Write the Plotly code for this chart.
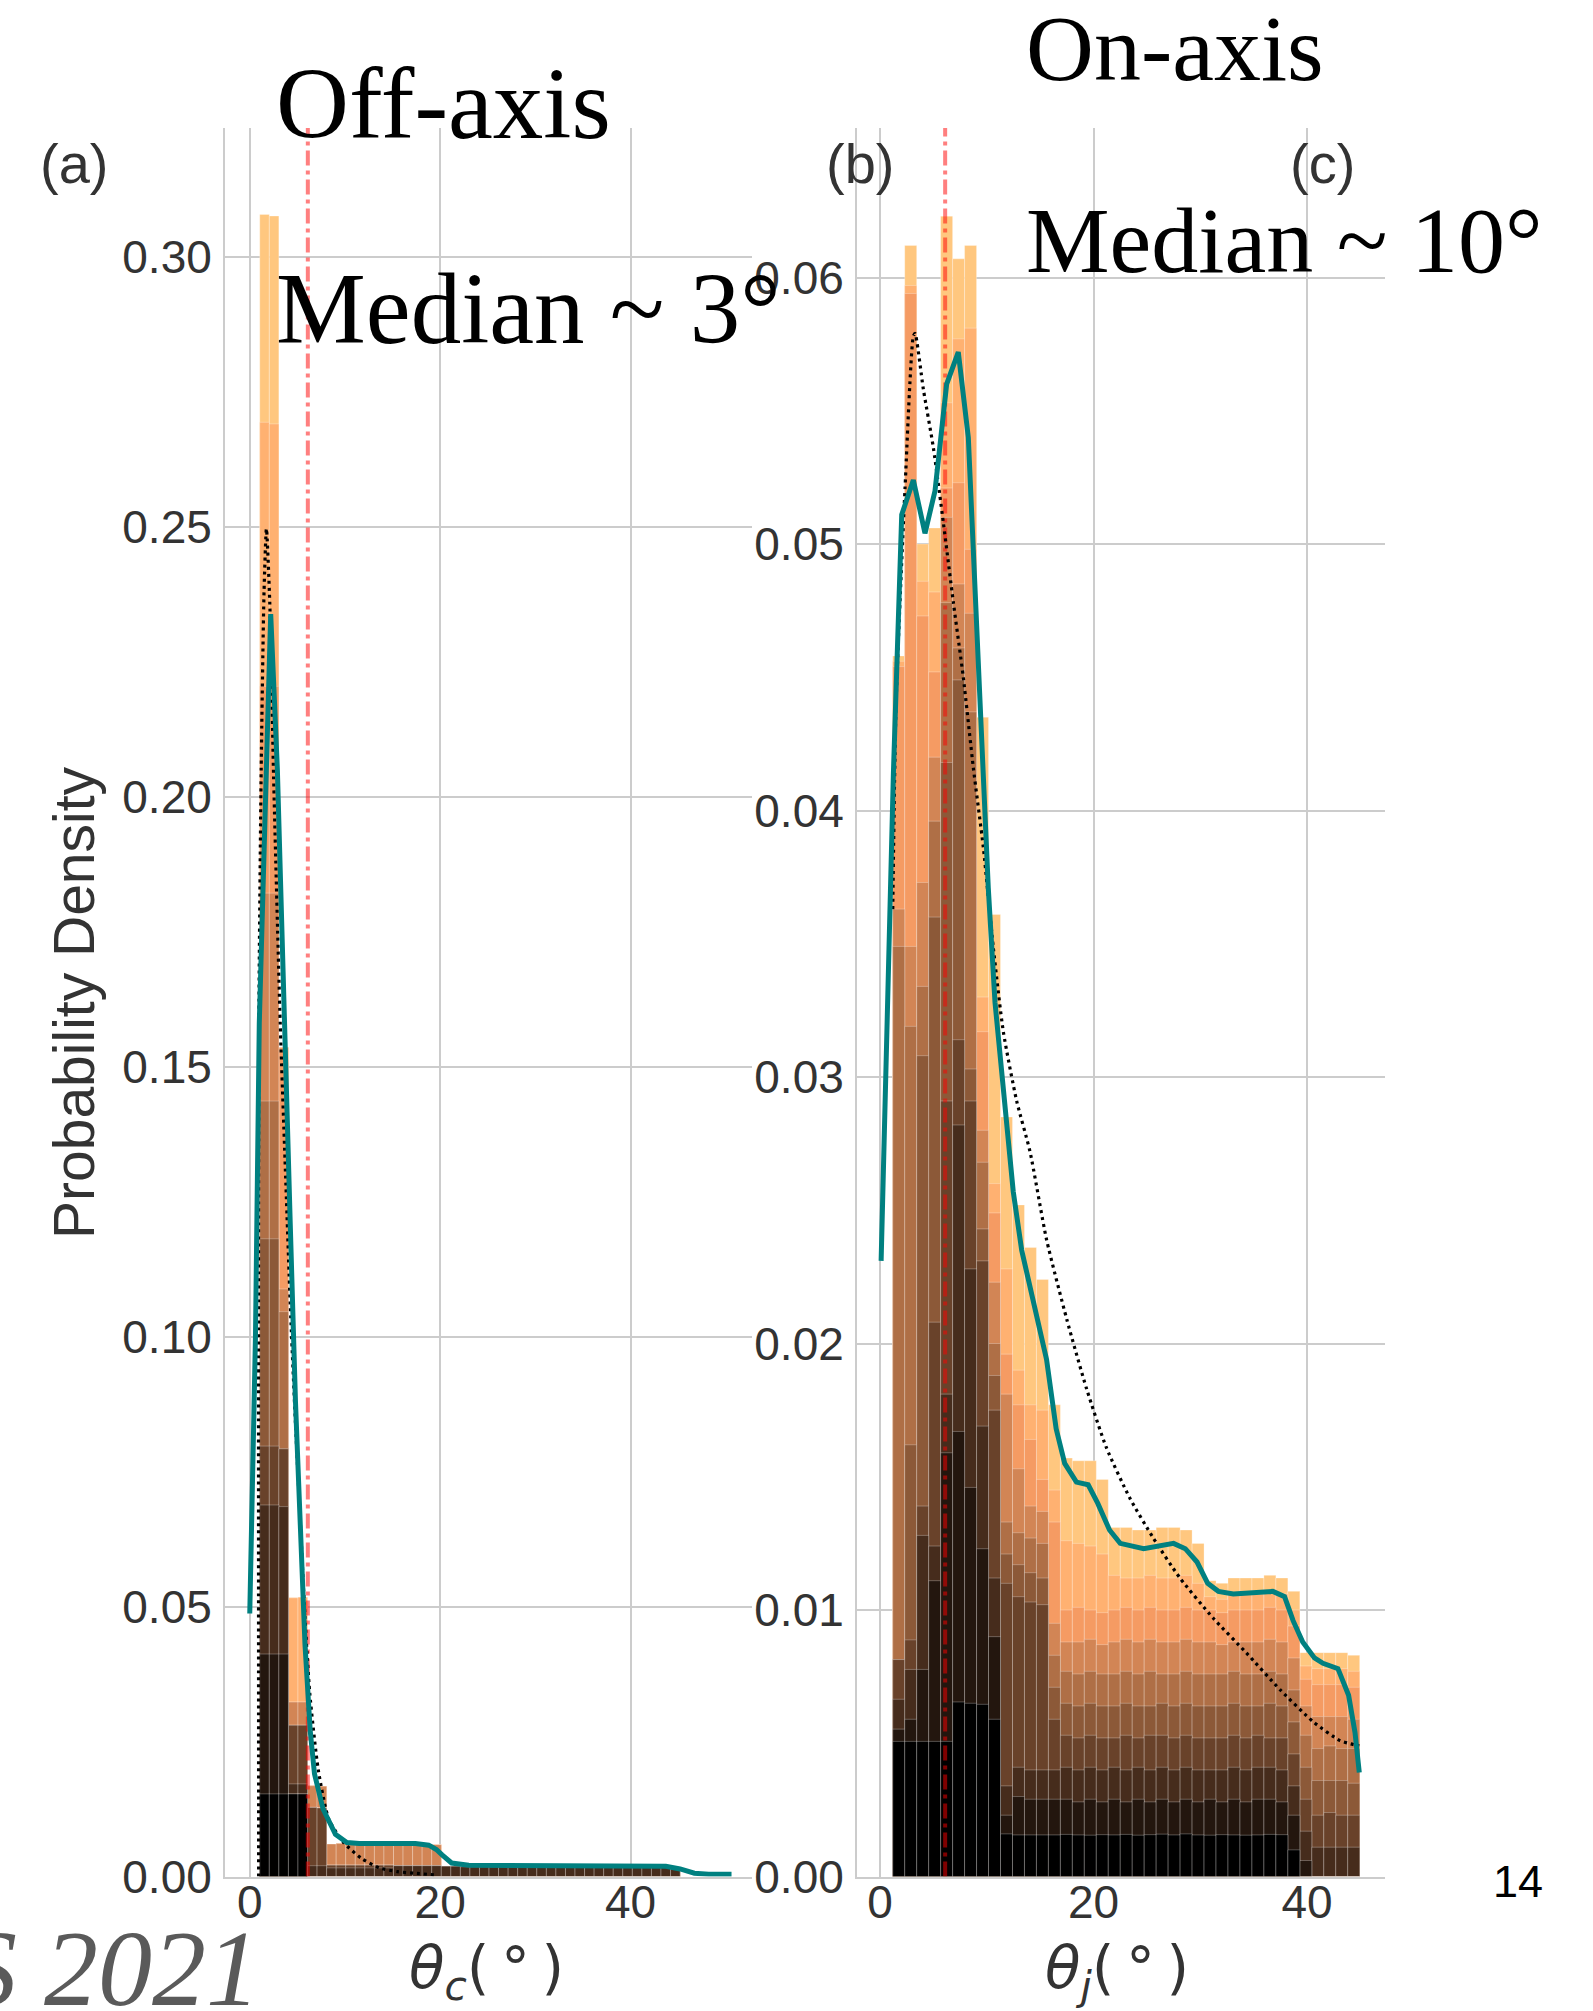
import numpy as np
import plotly.graph_objects as go

# ---------------- data ----------------
# Histogram bin edges (degrees)
off_edges = np.linspace(1.05, 45.2, 45)   # 44 bins, left panel (theta_c)
on_edges = np.linspace(1.19, 44.94, 40)   # 39 bins, right panel (theta_j)

# Stacked histogram, cumulative top of each layer per bin.
# Layer 0 is the bottom (darkest) layer, layer 9 the top (lightest).
off_L0 = [0.0153, 0.0153, 0.0153, 0.0153, 0.0153, 0.0, 0.0,
          0, 0, 0, 0, 0, 0, 0, 0, 0, 0, 0, 0,
          0, 0, 0, 0, 0, 0, 0, 0, 0, 0, 0, 0, 0, 0, 0, 0, 0, 0, 0, 0, 0, 0, 0, 0,
          0]
off_L1 = [0.0412, 0.0412, 0.0412, 0.0153, 0.0153, 0.0, 0.0,
          0, 0, 0, 0, 0, 0, 0, 0, 0, 0, 0, 0,
          0, 0, 0, 0, 0, 0, 0, 0, 0, 0, 0, 0, 0, 0, 0, 0, 0, 0, 0, 0, 0, 0, 0, 0,
          0]
off_L2 = [0.0688, 0.0688, 0.0685, 0.01715, 0.01715, 0.0020, 0.0020,
          0.0016, 0.0016, 0.0016, 0.0016, 0.0016, 0.0016, 0.0016, 0.0020, 0.0020, 0.0020, 0.0020, 0.0020,
          0.0019, 0.0019, 0.0018, 0.0018, 0.0018, 0.0018, 0.0018, 0.0018, 0.0018, 0.0018, 0.0018, 0.0018,
          0.0018, 0.0018, 0.0018, 0.0018, 0.0018, 0.0018, 0.0018, 0.0018, 0.0018, 0.0018, 0.0017, 0.0017,
          0.0014]
off_L3 = [0.0797, 0.0797, 0.0792, 0.0280, 0.0280, 0.0128, 0.0127,
          0.0021, 0.0021, 0.0021, 0.0021, 0.0021, 0.0021, 0.0021, 0.0020, 0.0020, 0.0020, 0.0020, 0.0020,
          0.0019, 0.0019, 0.0018, 0.0018, 0.0018, 0.0018, 0.0018, 0.0018, 0.0018, 0.0018, 0.0018, 0.0018,
          0.0018, 0.0018, 0.0018, 0.0018, 0.0018, 0.0018, 0.0018, 0.0018, 0.0018, 0.0018, 0.0017, 0.0017,
          0.0014]
off_L4 = [0.1181, 0.1181, 0.0792, 0.0280, 0.0280, 0.0128, 0.0127,
          0.0021, 0.0021, 0.0021, 0.0021, 0.0021, 0.0021, 0.0021, 0.0020, 0.0020, 0.0020, 0.0020, 0.0020,
          0.0019, 0.0019, 0.0018, 0.0018, 0.0018, 0.0018, 0.0018, 0.0018, 0.0018, 0.0018, 0.0018, 0.0018,
          0.0018, 0.0018, 0.0018, 0.0018, 0.0018, 0.0018, 0.0018, 0.0018, 0.0018, 0.0018, 0.0017, 0.0017,
          0.0014]
off_L5 = [0.1436, 0.1436, 0.1046, 0.0280, 0.0280, 0.0128, 0.0127,
          0.0021, 0.0021, 0.0021, 0.0021, 0.0021, 0.0021, 0.0021, 0.0020, 0.0020, 0.0020, 0.0020, 0.0020,
          0.0019, 0.0019, 0.0018, 0.0018, 0.0018, 0.0018, 0.0018, 0.0018, 0.0018, 0.0018, 0.0018, 0.0018,
          0.0018, 0.0018, 0.0018, 0.0018, 0.0018, 0.0018, 0.0018, 0.0018, 0.0018, 0.0018, 0.0017, 0.0017,
          0.0014]
off_L6 = [0.1821, 0.1821, 0.1088, 0.0323, 0.0323, 0.0168, 0.0167,
          0.0060, 0.0061, 0.0060, 0.0060, 0.0059, 0.0060, 0.0061, 0.0060, 0.0060, 0.0061, 0.0060, 0.0059,
          0.0019, 0.0019, 0.0018, 0.0018, 0.0018, 0.0018, 0.0018, 0.0018, 0.0018, 0.0018, 0.0018, 0.0018,
          0.0018, 0.0018, 0.0018, 0.0018, 0.0018, 0.0018, 0.0018, 0.0018, 0.0018, 0.0018, 0.0017, 0.0017,
          0.0014]
off_L7 = [0.2204, 0.2204, 0.1535, 0.0323, 0.0323, 0.0168, 0.0167,
          0.0060, 0.0061, 0.0060, 0.0060, 0.0059, 0.0060, 0.0061, 0.0060, 0.0060, 0.0061, 0.0060, 0.0059,
          0.0019, 0.0019, 0.0018, 0.0018, 0.0018, 0.0018, 0.0018, 0.0018, 0.0018, 0.0018, 0.0018, 0.0018,
          0.0018, 0.0018, 0.0018, 0.0018, 0.0018, 0.0018, 0.0018, 0.0018, 0.0018, 0.0018, 0.0017, 0.0017,
          0.0014]
off_L8 = [0.2693, 0.2690, 0.1535, 0.0516, 0.0517, 0.0168, 0.0167,
          0.0060, 0.0061, 0.0060, 0.0060, 0.0059, 0.0060, 0.0061, 0.0060, 0.0060, 0.0061, 0.0060, 0.0059,
          0.0019, 0.0019, 0.0018, 0.0018, 0.0018, 0.0018, 0.0018, 0.0018, 0.0018, 0.0018, 0.0018, 0.0018,
          0.0018, 0.0018, 0.0018, 0.0018, 0.0018, 0.0018, 0.0018, 0.0018, 0.0018, 0.0018, 0.0017, 0.0017,
          0.0014]
off_L9 = [0.3078, 0.3075, 0.1535, 0.0516, 0.0517, 0.0168, 0.0167,
          0.0060, 0.0061, 0.0060, 0.0060, 0.0059, 0.0060, 0.0061, 0.0060, 0.0060, 0.0061, 0.0060, 0.0059,
          0.0019, 0.0019, 0.0018, 0.0018, 0.0018, 0.0018, 0.0018, 0.0018, 0.0018, 0.0018, 0.0018, 0.0018,
          0.0018, 0.0018, 0.0018, 0.0018, 0.0018, 0.0018, 0.0018, 0.0018, 0.0018, 0.0018, 0.0017, 0.0017,
          0.0014]

on_L0 = [0.00507, 0.00507, 0.00507, 0.00507, 0.00507, 0.00655, 0.0065, 0.00646, 0.0059, 0.0016,
         0.00156, 0.00156, 0.00156, 0.00156, 0.00158, 0.00156, 0.00155, 0.00157, 0.00156, 0.00158,
         0.00155, 0.00157, 0.00159, 0.00156, 0.0016, 0.00156, 0.00155, 0.00157, 0.00156, 0.00155,
         0.00156, 0.00158, 0.00157, 0.0010, 0.0, 0.0, 0.0, 0.0, 0.0]
on_L1 = [0.00553, 0.0059, 0.00777, 0.0111, 0.0159, 0.0167, 0.0146, 0.0123, 0.0090, 0.0023,
         0.0030, 0.0029, 0.0029, 0.0029, 0.0029, 0.0028, 0.0029, 0.0028, 0.0029, 0.0028,
         0.0029, 0.0028, 0.0029, 0.0028, 0.0029, 0.0028, 0.0029, 0.0028, 0.0029, 0.0028,
         0.0029, 0.0029, 0.0028, 0.0023, 0.0006, 0.0, 0.0, 0.0, 0.0]
on_L2 = [0.00665, 0.00777, 0.0128, 0.0124, 0.0181, 0.0282, 0.0228, 0.0169, 0.0112, 0.0034,
         0.0041, 0.0040, 0.0040, 0.0040, 0.0041, 0.0040, 0.0041, 0.0040, 0.0041, 0.0040,
         0.0041, 0.0040, 0.0041, 0.0040, 0.0041, 0.0040, 0.0040, 0.0040, 0.0041, 0.0040,
         0.0041, 0.0041, 0.0040, 0.0034, 0.0017, 0.0011, 0.0011, 0.0011, 0.0011]
on_L3 = [0.00814, 0.00888, 0.0139, 0.0208, 0.0291, 0.0314, 0.0291, 0.0231, 0.0175, 0.0110,
         0.0105, 0.0103, 0.0102, 0.0059, 0.0053, 0.0052, 0.0053, 0.0052, 0.0052, 0.0053,
         0.0052, 0.0053, 0.0053, 0.0052, 0.0053, 0.0052, 0.0052, 0.0052, 0.0053, 0.0052,
         0.0053, 0.0052, 0.0052, 0.0046, 0.0029, 0.0023, 0.0024, 0.0023, 0.0023]
on_L4 = [0.00814, 0.0162, 0.0308, 0.0360, 0.0418, 0.0449, 0.0303, 0.0243, 0.0188, 0.0121,
         0.0117, 0.0114, 0.0112, 0.0071, 0.0065, 0.0064, 0.0065, 0.0064, 0.0064, 0.0065,
         0.0064, 0.0064, 0.0065, 0.0064, 0.0065, 0.0064, 0.0064, 0.0064, 0.0065, 0.0064,
         0.0064, 0.0065, 0.0064, 0.0058, 0.0041, 0.0036, 0.0036, 0.0036, 0.0035]
on_L5 = [0.0349, 0.0319, 0.0334, 0.0396, 0.0478, 0.0461, 0.0437, 0.0268, 0.0200, 0.0133,
         0.0129, 0.0127, 0.0125, 0.0083, 0.0077, 0.0076, 0.0077, 0.0076, 0.0076, 0.0077,
         0.0076, 0.0077, 0.0076, 0.0076, 0.0077, 0.0076, 0.0076, 0.0076, 0.0077, 0.0076,
         0.0076, 0.0077, 0.0076, 0.0070, 0.0053, 0.0048, 0.0049, 0.0048, 0.0048]
on_L6 = [0.0363, 0.0349, 0.0373, 0.0420, 0.0510, 0.0485, 0.0474, 0.0280, 0.0223, 0.0181,
         0.0153, 0.0139, 0.0137, 0.0095, 0.0088, 0.0088, 0.0089, 0.0087, 0.0088, 0.0089,
         0.0088, 0.0089, 0.0088, 0.0088, 0.0089, 0.0088, 0.0088, 0.0087, 0.0088, 0.0088,
         0.0088, 0.0089, 0.0088, 0.0082, 0.0064, 0.0060, 0.0060, 0.0060, 0.0059]
on_L7 = [0.0454, 0.0594, 0.0473, 0.0452, 0.0521, 0.0523, 0.0498, 0.0317, 0.0249, 0.0196,
         0.0177, 0.0164, 0.0149, 0.0133, 0.0100, 0.0101, 0.0100, 0.0099, 0.0100, 0.0101,
         0.0100, 0.0101, 0.0100, 0.0100, 0.0101, 0.0100, 0.0100, 0.0099, 0.0100, 0.0100,
         0.0100, 0.0101, 0.0100, 0.0094, 0.0074, 0.0072, 0.0072, 0.0072, 0.0071]
on_L8 = [0.0456, 0.0597, 0.0486, 0.0482, 0.0553, 0.0577, 0.0581, 0.0330, 0.0260, 0.0228,
         0.0190, 0.0177, 0.0175, 0.0145, 0.0126, 0.0125, 0.0124, 0.0121, 0.0113, 0.0112,
         0.0112, 0.0113, 0.0112, 0.0112, 0.0113, 0.0110, 0.0105, 0.0104, 0.0106, 0.0106,
         0.0106, 0.0107, 0.0106, 0.0100, 0.0079, 0.0078, 0.0078, 0.0078, 0.0077]
on_L9 = [0.0458, 0.0612, 0.0500, 0.0506, 0.0623, 0.0607, 0.0612, 0.0435, 0.0361, 0.0285,
         0.0252, 0.0236, 0.0224, 0.0177, 0.0157, 0.0156, 0.0156, 0.0149, 0.0131, 0.0131,
         0.0130, 0.0130, 0.0131, 0.0131, 0.0130, 0.0125, 0.0111, 0.0110, 0.0112, 0.0112,
         0.0112, 0.0113, 0.0112, 0.0107, 0.0084, 0.0084, 0.0084, 0.0084, 0.0083]

# Smoothed density (teal) and fitted model (dotted), left panel
off_kde_x = [0, 0.6, 1.0, 1.6, 2.2, 2.9, 3.7, 4.25, 4.8, 5.3, 5.8, 6.35, 6.8, 7.7, 9.0,
             10.2, 11.5, 13.7, 15.5, 17.4, 18.8, 19.6, 20.2, 21.2, 23.0, 27.0, 32.4, 38.0,
             43.7, 45.2, 46.7, 48.2, 50.6]
off_kde_y = [0.0487, 0.100, 0.158, 0.196, 0.2338, 0.205, 0.159, 0.121, 0.088, 0.066, 0.043,
             0.027, 0.019, 0.0125, 0.0078, 0.0063, 0.0061, 0.0061, 0.0061, 0.0061, 0.0058,
             0.0050, 0.0040, 0.0025, 0.0021, 0.0021, 0.0021, 0.0020, 0.0019, 0.0014, 0.0006,
             0.0004, 0.0004]
off_fit_x = [0.93, 0.96, 1.2, 1.5, 1.75, 2.1, 2.5, 3.2, 3.8, 4.25, 4.8, 5.3, 5.8, 6.3, 7.2,
             8.3, 9.8, 11.7, 13.6, 15.5, 17.3, 19.5]
off_fit_y = [0.0, 0.159, 0.205, 0.238, 0.2496, 0.236, 0.204, 0.158, 0.128, 0.106, 0.084,
             0.066, 0.048, 0.034, 0.0197, 0.0106, 0.0064, 0.0034, 0.0016, 0.0009, 0.0006,
             0.0003]

# Smoothed density (teal) and fitted model (dotted), right panel
on_kde_x = [0.1, 0.47, 1.25, 2.03, 3.12, 4.21, 5.15, 6.24, 7.33, 8.27, 9.36, 10.14, 10.77,
            11.7, 12.48, 13.27, 14.5, 15.6, 16.5, 17.3, 18.4, 19.5, 20.4, 21.5, 22.5, 24.7,
            27.5, 28.6, 29.7, 30.7, 31.7, 33.1, 36.8, 37.9, 38.7, 39.6, 40.7, 41.5, 42.9,
            43.9, 44.5, 44.9]
on_kde_y = [0.0231, 0.0291, 0.0414, 0.0511, 0.0524, 0.0504, 0.0520, 0.0560, 0.0572, 0.0540,
            0.0435, 0.0371, 0.0328, 0.0291, 0.0257, 0.0235, 0.0213, 0.0194, 0.0168, 0.0155,
            0.0148, 0.0147, 0.0140, 0.0130, 0.0125, 0.0123, 0.0125, 0.0123, 0.0118, 0.0110,
            0.0107, 0.0106, 0.0107, 0.0105, 0.0096, 0.0088, 0.0082, 0.0080, 0.0078, 0.0068,
            0.0054, 0.0039]
on_fit_x = [1.19, 1.5, 2.34, 3.12, 3.28, 4.06, 5.0, 5.93, 6.87, 7.8, 8.74, 9.68, 10.6, 11.55,
            12.8, 14.05, 15.6, 17.5, 19.35, 21.2, 23.4, 25.6, 28.1, 31.2, 34.3, 37.5, 40.6,
            43.1, 44.9]
on_fit_y = [0.0363, 0.0440, 0.0521, 0.0578, 0.0579, 0.0558, 0.0536, 0.0508, 0.0478, 0.0450,
            0.0416, 0.0386, 0.0349, 0.0317, 0.0291, 0.0272, 0.0239, 0.0209, 0.0183, 0.0161,
            0.0142, 0.0127, 0.0112, 0.0097, 0.0084, 0.0070, 0.0058, 0.0051, 0.0049]

# Median markers (degrees)
off_median = 6.1
on_median = 6.1

off_yticks = [0.00, 0.05, 0.10, 0.15, 0.20, 0.25, 0.30]
on_yticks = [0.00, 0.01, 0.02, 0.03, 0.04, 0.05, 0.06]
x_ticks = [0, 20, 40]

# ---------------- styling ----------------
W, H = 1593, 2011


def px(x):
    return x / W


def py(y):
    return 1 - y / H


def copper(t):
    r = min(1.0, 1.2353 * t)
    g = 0.7812 * t
    b = 0.4975 * t
    return "rgb(%d,%d,%d)" % (round(255 * r), round(255 * g), round(255 * b))


layer_colors = [copper(i / 9) for i in range(10)]
off_layers = [off_L0, off_L1, off_L2, off_L3, off_L4, off_L5, off_L6, off_L7, off_L8, off_L9]
on_layers = [on_L0, on_L1, on_L2, on_L3, on_L4, on_L5, on_L6, on_L7, on_L8, on_L9]

OFF_YTOP = 0.3238
ON_YTOP = 0.06561

TICK_FONT = dict(family="Liberation Sans, Arial, sans-serif", size=46, color="#333333")
GRID = "#cccccc"

fig = go.Figure()


def add_panel(edges, layers, kde_x, kde_y, fit_x, fit_y, median, ytop, xa, ya):
    centers = 0.5 * (edges[:-1] + edges[1:])
    width = edges[1] - edges[0]
    # cumulative tops drawn tallest first so each lower layer sits over it
    for i in reversed(range(len(layers))):
        fig.add_trace(go.Bar(
            x=centers, y=layers[i], width=width,
            marker=dict(color=layer_colors[i],
                        line=dict(color="rgba(255,255,255,0.28)", width=1)),
            xaxis=xa, yaxis=ya, hoverinfo="skip", showlegend=False))
    fig.add_trace(go.Scatter(
        x=[median, median], y=[0, ytop], mode="lines",
        line=dict(color="rgba(255,0,0,0.5)", width=4, dash="15px,5px,4px,5px"),
        xaxis=xa, yaxis=ya, hoverinfo="skip", showlegend=False))
    fig.add_trace(go.Scatter(
        x=fit_x, y=fit_y, mode="lines",
        line=dict(color="black", width=3.2, dash="3px,4px", shape="spline", smoothing=0.6),
        xaxis=xa, yaxis=ya, hoverinfo="skip", showlegend=False))
    fig.add_trace(go.Scatter(
        x=kde_x, y=kde_y, mode="lines",
        line=dict(color="#008080", width=5),
        xaxis=xa, yaxis=ya, hoverinfo="skip", showlegend=False))


add_panel(off_edges, off_layers, off_kde_x, off_kde_y, off_fit_x, off_fit_y,
          off_median, OFF_YTOP, "x", "y")
add_panel(on_edges, on_layers, on_kde_x, on_kde_y, on_fit_x, on_fit_y,
          on_median, ON_YTOP, "x2", "y2")

ydom = [py(1876.5), py(128)]
common_x = dict(tickvals=x_ticks, showgrid=True, gridcolor=GRID, gridwidth=2,
                zeroline=False, showline=True, linecolor=GRID, linewidth=2,
                ticks="", tickfont=TICK_FONT, ticklabelstandoff=-16, automargin=False)
common_y = dict(showgrid=True, gridcolor=GRID, gridwidth=2, zeroline=False,
                showline=True, linecolor=GRID, linewidth=2, ticks="",
                tickfont=TICK_FONT, tickformat=".2f", ticklabelstandoff=2, automargin=False)

fig.update_layout(
    width=W, height=H, autosize=False,
    margin=dict(l=0, r=0, t=0, b=0, pad=0),
    paper_bgcolor="white", plot_bgcolor="white",
    barmode="overlay", showlegend=False,
    xaxis=dict(domain=[px(225), px(752)], range=[-2.6, 52.75], anchor="y", **common_x),
    yaxis=dict(domain=ydom, range=[0, OFF_YTOP], tickvals=off_yticks, anchor="x", **common_y),
    xaxis2=dict(domain=[px(857), px(1385)], range=[-2.16, 47.31], anchor="y2", **common_x),
    yaxis2=dict(domain=ydom, range=[0, ON_YTOP], tickvals=on_yticks, anchor="x2", **common_y),
)

SERIF = "Liberation Serif, Times New Roman, serif"
SANS = "Liberation Sans, Arial, sans-serif"
ann = []


def text(x, y, s, size, family, color="black", xanchor="center", yanchor="middle", angle=0):
    ann.append(dict(x=px(x), y=py(y), xref="paper", yref="paper", text=s, showarrow=False,
                    xanchor=xanchor, yanchor=yanchor, textangle=angle,
                    font=dict(family=family, size=size, color=color)))


# panel letters
text(74, 164, "(a)", 56, SANS, "#333333")
text(860, 164, "(b)", 56, SANS, "#333333")
text(1322, 164, "(c)", 56, SANS, "#333333")

# headings
text(274, 104, "Off-axis", 101, SERIF, xanchor="left")
text(274, 309, "Median ~ 3°", 101, SERIF, xanchor="left")
text(1024, 48, "On-axis", 94, SERIF, xanchor="left")
text(1024, 240, "Median ~ 10°", 94, SERIF, xanchor="left")

# axis titles
text(74, 1003, "Probability Density", 57, SANS, "#333333", angle=-90)
text(486, 1972, "<i>θ</i><sub><i>c</i></sub>(\u2009°\u2009)", 58, "DejaVu Sans", "#333333")
text(1117, 1972, "<i>θ</i><sub><i>j</i></sub>(\u2009°\u2009)", 58, "DejaVu Sans", "#333333")

# page furniture
text(1518, 1881, "14", 45, SANS, "black")
text(262, 1968, "<i>S 2021</i>", 108, SERIF, "#5a5a5a", xanchor="right")

fig.update_layout(annotations=ann)

fig.write_html("out.html", config={"responsive": False})
